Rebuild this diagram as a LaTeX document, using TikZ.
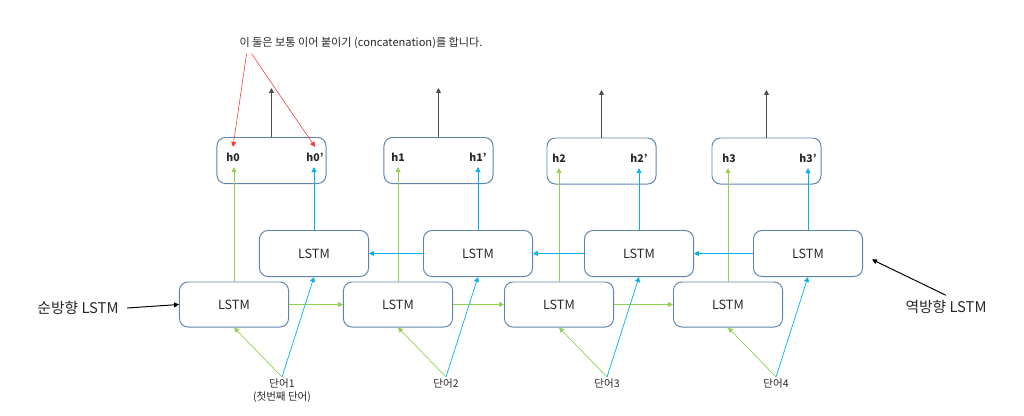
\documentclass[tikz,border=0pt]{standalone}
\usepackage{fontspec}
\setmainfont{Noto Sans CJK KR}
\usetikzlibrary{arrows.meta}
\definecolor{boxline}{RGB}{96,132,176}
\definecolor{fwdgreen}{RGB}{146,208,80}
\definecolor{bwdblue}{RGB}{0,176,240}
\definecolor{txt}{RGB}{40,40,40}
\tikzset{
  lstm/.style={draw=boxline, line width=0.7pt, rounded corners=6pt, minimum width=2.725cm,
    minimum height=1.15cm, inner sep=0pt, text=txt, font=\fontsize{9}{11}\selectfont},
  hstate/.style={inner xsep=1pt, inner ysep=4pt, text=txt, font=\fontsize{7.5}{9}\selectfont\bfseries},
  word/.style={anchor=north, inner sep=1pt, align=center, text=txt, font=\fontsize{7.5}{9}\selectfont},
  side/.style={inner xsep=6pt, text=txt, font=\fontsize{10.5}{12}\selectfont},
  tip/.style={-{Triangle[length=3.5pt,width=3.5pt]}},
  fwd/.style={tip, draw=fwdgreen, line width=0.5pt},
  bwd/.style={tip, draw=bwdblue, line width=0.5pt},
  outarrow/.style={tip, draw=black!70, line width=0.6pt},
  note/.style={tip, draw=red!80, line width=0.4pt}
}
\begin{document}
\begin{tikzpicture}[x=0.025cm, y=-0.025cm]
  \useasboundingbox (0,0) rectangle (1024,415);

  % output boxes
  \node[lstm, minimum height=1.15cm] (hb0) at (271.5,160.5) {};
  \node[lstm, minimum height=1.15cm] (hb1) at (438.5,160.5) {};
  \node[lstm, minimum height=1.15cm] (hb2) at (601.5,161) {};
  \node[lstm, minimum height=1.15cm] (hb3) at (766.5,161) {};
  \node[hstate] (h0) at (233,157) {h0};
  \node[hstate] (h0p) at (315,157) {h0’};
  \node[hstate] (h1) at (398,157) {h1};
  \node[hstate] (h1p) at (478,157) {h1’};
  \node[hstate] (h2) at (559,158) {h2};
  \node[hstate] (h2p) at (639,158) {h2’};
  \node[hstate] (h3) at (729,158) {h3};
  \node[hstate] (h3p) at (808,158) {h3’};

  % backward LSTM
  \node[lstm] (b1) at (314,253.5) {LSTM};
  \node[lstm] (b2) at (478,253.5) {LSTM};
  \node[lstm] (b3) at (639,253.5) {LSTM};
  \node[lstm] (b4) at (808,253.5) {LSTM};

  % forward LSTM
  \node[lstm, minimum height=1.125cm] (f1) at (234,304.5) {LSTM};
  \node[lstm, minimum height=1.125cm] (f2) at (398,304.5) {LSTM};
  \node[lstm, minimum height=1.125cm] (f3) at (559,304.5) {LSTM};
  \node[lstm, minimum height=1.125cm] (f4) at (728,304.5) {LSTM};

  % words
  \node[word] (w1) at (282,377) {단어1\\(첫번째 단어)};
  \node[word] (w2) at (446,377) {단어2};
  \node[word] (w3) at (607,377) {단어3};
  \node[word] (w4) at (776,377) {단어4};

  \node[side] (fwdlabel) at (78,308) {순방향 LSTM};
  \node[side] (bwdlabel) at (946,307) {역방향 LSTM};
  \node[text=txt, font=\fontsize{7.9}{9}\selectfont] (cat) at (361,43)
    {이 둘은 보통 이어 붙이기 (concatenation)를 합니다.};

  \coordinate (o0) at (271.5,88);
  \coordinate (o1) at (438.5,88);
  \coordinate (o2) at (601.5,90);
  \coordinate (o3) at (766.5,90);

  \draw[outarrow] (hb0.north) -- (o0);
  \draw[outarrow] (hb1.north) -- (o1);
  \draw[outarrow] (hb2.north) -- (o2);
  \draw[outarrow] (hb3.north) -- (o3);

  \draw[note] ([xshift=0.3cm]cat.south west) -- (h0.north);
  \draw[note] ([xshift=0.425cm]cat.south west) -- (h0p.north);

  \draw[fwd] (f1.north) -- (f1.north |- h0.south);
  \draw[fwd] (f2.north) -- (f2.north |- h1.south);
  \draw[fwd] (f3.north) -- (f3.north |- h2.south);
  \draw[fwd] (f4.north) -- (f4.north |- h3.south);
  \draw[bwd] (b1.north) -- (b1.north |- h0p.south);
  \draw[bwd] (b2.north) -- (b2.north |- h1p.south);
  \draw[bwd] (b3.north) -- (b3.north |- h2p.south);
  \draw[bwd] (b4.north) -- (b4.north |- h3p.south);

  \draw[fwd] (f1.east) -- (f2.west);
  \draw[fwd] (f2.east) -- (f3.west);
  \draw[fwd] (f3.east) -- (f4.west);
  \draw[bwd] (b4.west) -- (b3.east);
  \draw[bwd] (b3.west) -- (b2.east);
  \draw[bwd] (b2.west) -- (b1.east);

  \draw[fwd] (w1.north) -- (f1.south);
  \draw[fwd] (w2.north) -- (f2.south);
  \draw[fwd] (w3.north) -- (f3.south);
  \draw[fwd] (w4.north) -- (f4.south);
  \draw[bwd] (w1.north) -- (b1.south);
  \draw[bwd] (w2.north) -- (b2.south);
  \draw[bwd] (w3.north) -- (b3.south);
  \draw[bwd] (w4.north) -- (b4.south);

  \draw[tip, line width=0.7pt] (fwdlabel.east) -- (f1.west);
  \draw[tip, line width=0.7pt] (bwdlabel.north) -- ([shift={(9,6)}]b4.east);
\end{tikzpicture}
\end{document}
